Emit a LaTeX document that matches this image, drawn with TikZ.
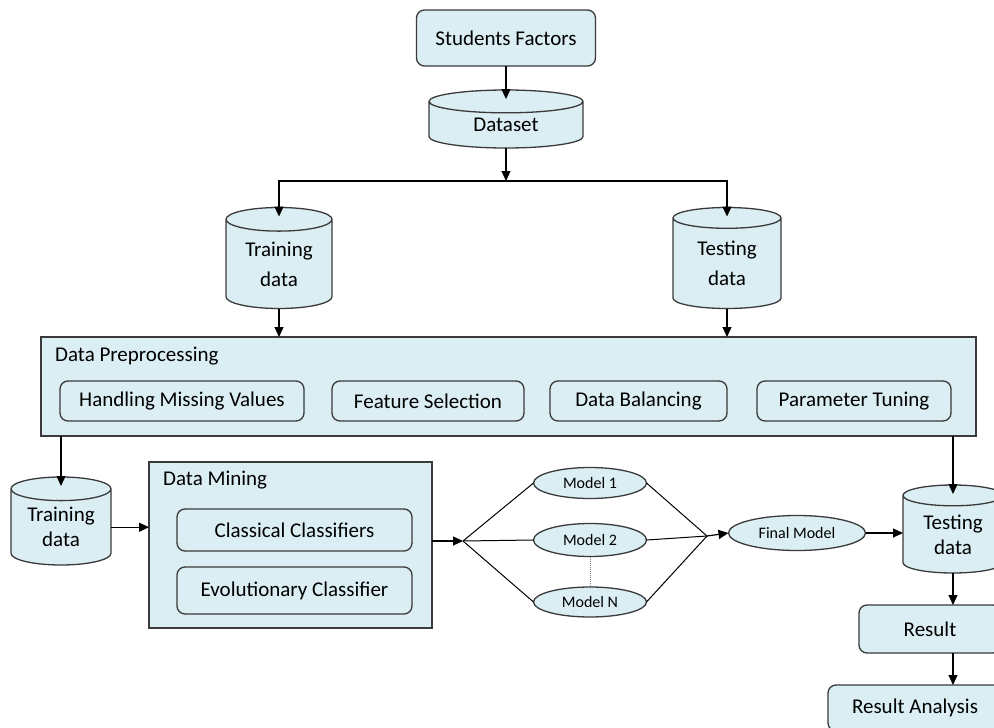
\documentclass[tikz,border=0pt]{standalone}
\usepackage{fontspec}
\setmainfont{Carlito}
\usepackage{xcolor}
\usepackage{tikz}
\usetikzlibrary{arrows.meta, positioning, shapes.geometric}

\definecolor{boxfill}{HTML}{DAEEF3}
\definecolor{boxline}{HTML}{3A3A3A}

\begin{document}
\begin{tikzpicture}[
            x=1pt, y=-1pt,
            font=\fontsize{21}{25}\selectfont,
            box/.style={
                draw=boxline,
                fill=boxfill,
                line width=1.3pt,
                rounded corners=8pt,
                inner sep=0pt,
                outer sep=0pt,
                text centered
  },
  panel/.style={
    draw=boxline,
    fill=boxfill,
    line width=1.3pt,
    inner sep=0pt,
    outer sep=0pt
  },
  drum/.style={
    cylinder,
    shape border rotate=90,
    aspect=0.35,
    anchor=shape center,
    draw=boxline,
    fill=boxfill,
    line width=1.3pt,
    inner sep=0pt,
    outer sep=0pt,
    align=center
  },
  model/.style={
    ellipse,
    draw=boxline,
    fill=boxfill,
    line width=1.3pt,
    inner sep=0pt,
    outer sep=0pt,
    font=\fontsize{16}{18}\selectfont
  },
  title/.style={
    anchor=west,
    inner sep=0pt
  },
  arr/.style={
    -{Triangle[length=10pt, width=9pt]},
    line width=1.2pt,
    black
  },
  link/.style={
    line width=1pt,
    black
  }
]

\useasboundingbox (0,0) rectangle (994,728);
\clip (0,0) rectangle (994,728);

% Boxes
\node [box, minimum width=179pt, minimum height=56pt] (factors) at (506,38) {Students Factors};
\node [drum, minimum width=154pt, minimum height=58pt] (dataset) at (506,119) {Dataset};

\node [drum, minimum width=106pt, minimum height=101pt] (train) at (279,258) {Training\\[5pt]data};
\node [drum, minimum width=108pt, minimum height=101pt] (test) at (727,258) {Testing\\[5pt]data};

% Data preprocessing
\node [panel, minimum width=935pt, minimum height=99pt] (prep) at (508.5,386.5) {};
\node [title] (preptitle) at (55,356) {Data Preprocessing};
\node [box, minimum width=244pt, minimum height=40pt] (missing) at (182,401) {Handling Missing Values};
\node [box, minimum width=192pt, minimum height=40pt] (feature) at (428,401) {Feature Selection};
\node [box, minimum width=177pt, minimum height=40pt] (balance) at (638.5,401) {Data Balancing};
\node [box, minimum width=194pt, minimum height=40pt] (tuning) at (854,401) {Parameter Tuning};

\node [drum, minimum width=100pt, minimum height=88pt] (train2) at (61,521) {Training\\data};

% Data mining
\node [panel, minimum width=283pt, minimum height=166pt] (mining) at (290.5,545) {};
\node [title] (miningtitle) at (163,480) {Data Mining};
\node [box, minimum width=235pt, minimum height=42pt] (classical) at (294.5,530) {Classical Classifiers};
\node [box, minimum width=235pt, minimum height=47pt] (evolution) at (294.5,590.5) {Evolutionary Classifier};

% Models
\coordinate (split) at (463,541);
\coordinate (join) at (707,536);
\node [model, minimum width=113pt, minimum height=31pt] (m1) at (590,483) {Model 1};
\node [model, minimum width=113pt, minimum height=33pt] (m2) at (590,540) {Model 2};
\node [model, minimum width=113pt, minimum height=30pt] (mN) at (590,602) {Model N};
\node [model, minimum width=137pt, minimum height=35pt] (final) at (797,533) {Final Model};

\node [drum, minimum width=100pt, minimum height=88pt] (test2) at (953,529) {Testing\\data};
\node [box, minimum width=142pt, minimum height=48pt] (result) at (930,629) {Result};
\node [box, minimum width=174pt, minimum height=46pt] (analysis) at (915,708) {Result Analysis};

% Arrows
\coordinate (fork) at (506,181);
\draw [arr] (factors.south) -- ([yshift=-9pt]dataset.north);
\draw [arr] (dataset.south) -- (fork);
\draw [arr] (fork) -| ([yshift=-9pt]train.north);
\draw [arr] (fork) -| ([yshift=-9pt]test.north);
\draw [arr] (train.south) -- (train.south |- prep.north);
\draw [arr] (test.south) -- (test.south |- prep.north);

\draw [arr] (prep.south -| train2.north) -- ([yshift=-9pt]train2.north);
\draw [arr] (prep.south -| test2.north) -- ([yshift=-9pt]test2.north);
\draw [arr] (train2.east) -- (train2.east -| mining.west);
\draw [arr] (mining.east |- split) -- (split);

% Model links
\draw [link] (split) -- (m1.west);
\draw [link] (split) -- (m2.west);
\draw [link] (split) -- (mN.west);
\draw [link] (m1.east) -- (join);
\draw [link] (m2.east) -- (join);
\draw [link] (mN.east) -- (join);
\draw [gray, densely dotted, line width=1pt] (m2.south) -- (mN.north);
\draw [arr] (join) -- (final.west);
\draw [arr] (final.east) -- (final.east -| test2.west);

\draw [arr] (test2.south) -- (test2.south |- result.north);
\draw [arr] (test2.south |- result.south) -- (test2.south |- analysis.north);

\end{tikzpicture}
\end{document}
